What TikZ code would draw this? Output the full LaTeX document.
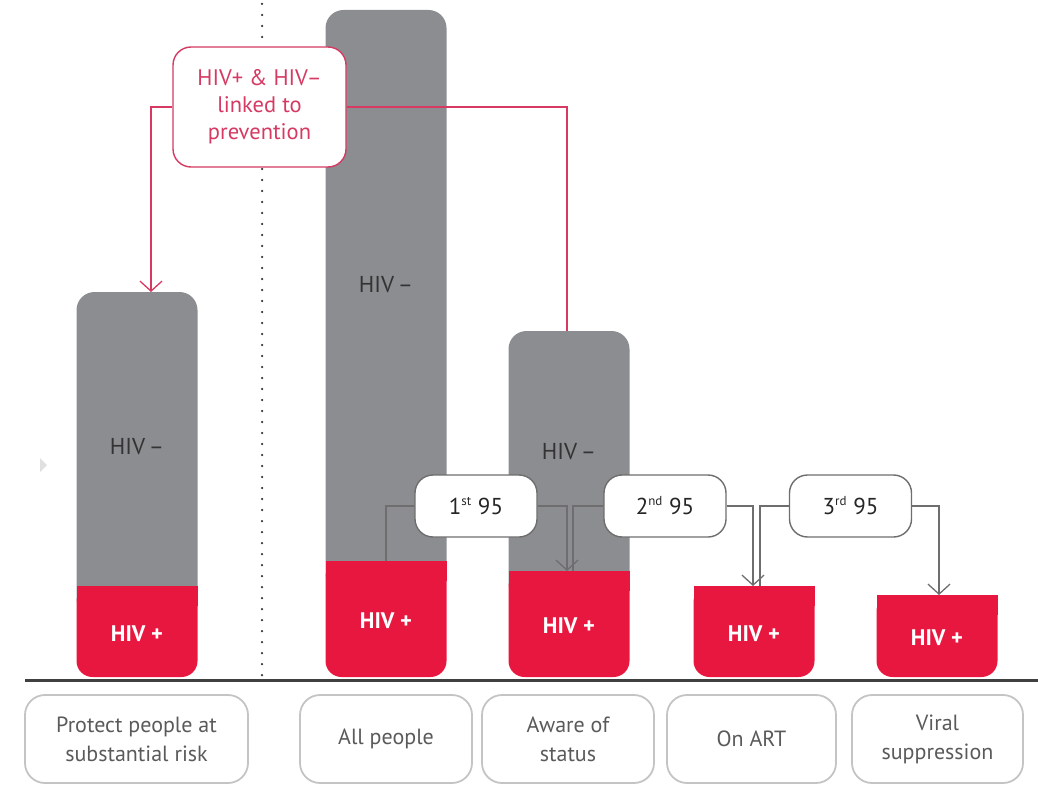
\documentclass[tikz,border=0pt]{standalone}
\usepackage{fontspec}
\setmainfont{PT Sans}
\usetikzlibrary{arrows.meta,positioning}
\definecolor{hivgray}{HTML}{8B8D90}
\definecolor{hivred}{HTML}{E8173F}
\definecolor{linkred}{HTML}{D63A62}
\definecolor{stepgray}{HTML}{6E6E6E}
\definecolor{framegray}{HTML}{C4C4C4}
\definecolor{labelgray}{HTML}{5A5A5A}
\tikzstyle{negbar}=[fill=hivgray,rounded corners=18]
\tikzstyle{posbar}=[fill=hivred,rounded corners=16]
\tikzstyle{negtext}=[text=black!80,font=\fontsize{23}{27}\selectfont]
\tikzstyle{postext}=[text=white,font=\bfseries\fontsize{22.5}{27}\selectfont]
\tikzstyle{catbox}=[draw=framegray,line width=1.8pt,rounded corners=20,minimum height=88pt,inner sep=0pt,align=center,text=labelgray,font=\fontsize{22}{29}\selectfont]
\tikzstyle{stepbox}=[draw=stepgray,line width=1.4pt,fill=white,rounded corners=18,minimum width=122pt,minimum height=62pt,inner sep=0pt,text=black!85,font=\fontsize{23}{27}\selectfont]
\tikzstyle{linkbox}=[draw=linkred,line width=1.4pt,fill=white,rounded corners=18,minimum width=173pt,minimum height=120pt,inner sep=0pt,align=center,text=linkred,font=\fontsize{22.5}{27}\selectfont]
\tikzstyle{stepline}=[draw=stepgray,line width=1.3pt]
\tikzstyle{linkline}=[draw=linkred,line width=1.3pt]
\tikzstyle{tip}=[-{Straight Barb[length=10pt,width=22pt,line width=1.3pt]}]
\newcommand{\ordsup}[1]{\textsuperscript{\fontsize{13}{13}\selectfont #1}}

\begin{document}
\begin{tikzpicture}[x=1pt,y=-1pt]
\useasboundingbox (0,0) rectangle (1038,786);

% Separator and ground line
\draw[black!80,line width=2.5pt,line cap=round,dash pattern=on 0pt off 11pt] (262,4) -- (262,680);
\draw[black!75,line width=3pt] (25,680) -- (1038,680);
\fill[black!12] (40,458) -- (47,465) -- (40,472) -- cycle;

% HIV- parts of the bars
\foreach \name/\xc/\top/\redtop/\ty in {prot/137/292/586/447, all/386/10/561/285, aware/569/331/571/452}{
  \fill[negbar] (\xc-60.5,\top) rectangle (\xc+60.5,\redtop+30);
  \coordinate (\name cap) at (\xc,\top);
  \node[negtext] (\name neg) at (\xc,\ty) {HIV\,--};
}

% HIV+ parts of the bars
\foreach \name/\xc/\redtop in {prot/137/586, all/386/561, aware/569/571, art/754/586, viral/937/595}{
  \fill[posbar] (\xc-60.5,\redtop) rectangle (\xc+60.5,677);
  \fill[hivred] (\xc-60.5,\redtop) rectangle (\xc+60.5,\redtop+20);
  \coordinate (\name top) at (\xc,\redtop);
  \node[postext] (\name pos) at (\xc,{(\redtop+677)/2+2}) {HIV +};
}

% Category labels
\foreach \name/\xc/\w/\txt in {protect/136.5/223/{Protect people at\\substantial risk}, allpeople/386/172/{All people}, status/568/172/{Aware of\\status}, onart/751.5/169/{On ART}, viralsup/937.5/171/{Viral\\suppression}}
\node[catbox,minimum width=\w pt] (\name) at (\xc,739) {\txt};

% Prevention link
\node[linkbox] (link) at (259.5,107) {HIV+ \& HIV--\\linked to\\prevention};
\path[linkline,tip] (link.west) -| ([xshift=14pt]protcap);
\path[linkline] (link.east) -| ([xshift=-2pt]awarecap);

% The three 95s
\node[stepbox] (first) at (476,506) {1\ordsup{st} 95};
\node[stepbox] (second) at (665,506) {2\ordsup{nd} 95};
\node[stepbox] (third) at (850.5,506) {3\ordsup{rd} 95};

\path[stepline] (alltop) |- (first.west);
\path[stepline,tip] (first.east) -| ([xshift=-2pt]awaretop);
\path[stepline] ([xshift=4pt]awaretop) |- (second.west);
\path[stepline,tip] (second.east) -| ([xshift=-1pt]arttop);
\path[stepline] ([xshift=6pt]arttop) |- (third.west);
\path[stepline,tip] (third.east) -| ([xshift=2pt]viraltop);

\end{tikzpicture}
\end{document}
